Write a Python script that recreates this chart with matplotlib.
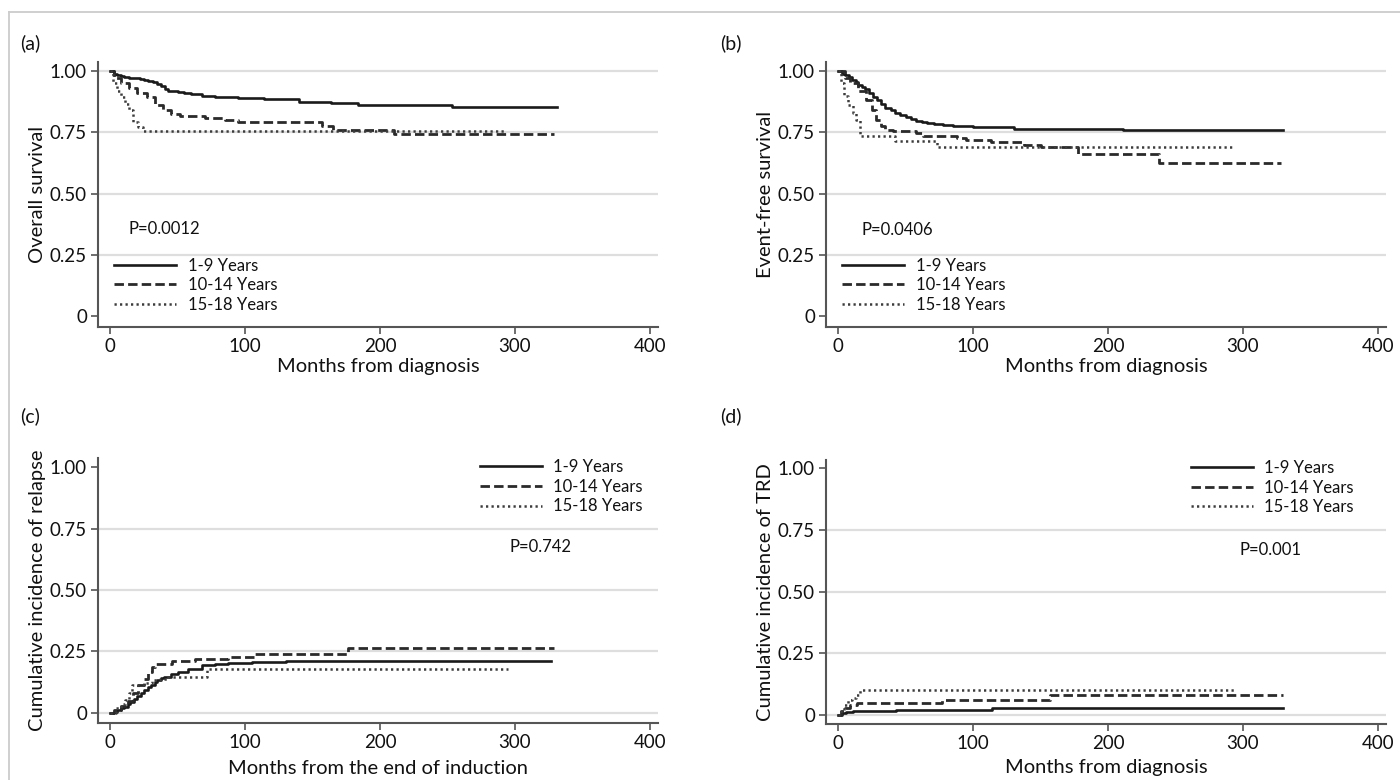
import matplotlib
matplotlib.use("Agg")
import matplotlib.pyplot as plt
from matplotlib.lines import Line2D

plt.rcParams['font.family'] = ['Lato', 'DejaVu Sans']

# ---------------- data ----------------
groups = ["1-9 Years", "10-14 Years", "15-18 Years"]

# (a) Overall survival
os_t_1 = [0, 3, 5, 8, 10, 14, 18, 22, 25, 28, 32, 35, 38, 41, 43, 47, 50, 55, 60, 68, 78, 95, 114, 140, 164, 184, 253, 331]
os_s_1 = [1.0, 0.99, 0.985, 0.98, 0.975, 0.973, 0.97, 0.967, 0.964, 0.96, 0.955, 0.947, 0.937, 0.928, 0.92, 0.917, 0.914, 0.91, 0.905, 0.9, 0.895, 0.89, 0.885, 0.875, 0.868, 0.862, 0.855, 0.855]
os_t_2 = [0, 3, 8, 14, 20, 27, 33, 39, 45, 52, 70, 85, 95, 157, 165, 210, 329]
os_s_2 = [1.0, 0.97, 0.95, 0.93, 0.91, 0.895, 0.86, 0.84, 0.825, 0.815, 0.81, 0.80, 0.79, 0.775, 0.76, 0.745, 0.745]
os_t_3 = [0, 2, 5, 8, 11, 14, 17, 21, 24, 292]
os_s_3 = [1.0, 0.95, 0.92, 0.895, 0.865, 0.84, 0.79, 0.77, 0.757, 0.757]

# (b) Event-free survival
efs_t_1 = [0, 3, 5, 8, 10, 13, 15, 18, 20, 23, 26, 29, 32, 35, 39, 42, 46, 50, 54, 58, 62, 66, 71, 78, 85, 100, 130, 211, 330]
efs_s_1 = [1.0, 0.99, 0.985, 0.975, 0.965, 0.955, 0.945, 0.935, 0.925, 0.91, 0.895, 0.88, 0.865, 0.85, 0.84, 0.83, 0.82, 0.812, 0.805, 0.797, 0.79, 0.786, 0.782, 0.778, 0.775, 0.77, 0.765, 0.758, 0.758]
efs_t_2 = [0, 5, 9, 15, 21, 25, 28, 32, 35, 41, 58, 63, 88, 95, 113, 138, 150, 178, 238, 328]
efs_s_2 = [1.0, 0.97, 0.95, 0.92, 0.88, 0.84, 0.80, 0.775, 0.76, 0.755, 0.748, 0.735, 0.725, 0.72, 0.71, 0.70, 0.69, 0.66, 0.625, 0.625]
efs_t_3 = [0, 2, 4, 7, 11, 13, 16, 42, 73, 293]
efs_s_3 = [1.0, 0.95, 0.90, 0.86, 0.83, 0.80, 0.735, 0.715, 0.688, 0.688]

# (c) Cumulative incidence of relapse
rel_t_1 = [0, 3, 5, 8, 10, 13, 15, 18, 20, 23, 25, 28, 30, 33, 35, 38, 40, 45, 50, 58, 68, 78, 87, 105, 130, 327]
rel_s_1 = [0, 0.005, 0.01, 0.018, 0.025, 0.035, 0.045, 0.058, 0.07, 0.083, 0.095, 0.105, 0.115, 0.125, 0.135, 0.142, 0.148, 0.16, 0.168, 0.18, 0.195, 0.2, 0.205, 0.208, 0.212, 0.212]
rel_t_2 = [0, 3, 8, 13, 17, 21, 25, 28, 31, 33, 46, 63, 87, 107, 176, 329]
rel_s_2 = [0, 0.01, 0.03, 0.05, 0.08, 0.115, 0.14, 0.165, 0.185, 0.2, 0.21, 0.22, 0.228, 0.24, 0.263, 0.263]
rel_t_3 = [0, 4, 8, 11, 14, 16, 26, 31, 37, 43, 72, 295]
rel_s_3 = [0, 0.02, 0.035, 0.053, 0.08, 0.114, 0.12, 0.134, 0.14, 0.148, 0.178, 0.178]

# (d) Cumulative incidence of TRD
trd_t_1 = [0, 3, 6, 11, 43, 114, 330]
trd_s_1 = [0, 0.008, 0.013, 0.018, 0.022, 0.027, 0.027]
trd_t_2 = [0, 2, 5, 9, 14, 77, 157, 330]
trd_s_2 = [0, 0.015, 0.03, 0.04, 0.048, 0.063, 0.083, 0.083]
trd_t_3 = [0, 2, 4, 7, 10, 13, 16, 295]
trd_s_3 = [0, 0.02, 0.04, 0.06, 0.07, 0.08, 0.10, 0.10]

x_ticks = [0, 100, 200, 300, 400]
y_ticks = [0, 0.25, 0.5, 0.75, 1.0]
y_ticklabels = ["0", "0.25", "0.50", "0.75", "1.00"]

panels = [
    dict(tag="(a)", ylabel="Overall survival", xlabel="Months from diagnosis", pval="P=0.0012",
         series=[(os_t_1, os_s_1), (os_t_2, os_s_2), (os_t_3, os_s_3)]),
    dict(tag="(b)", ylabel="Event-free survival", xlabel="Months from diagnosis", pval="P=0.0406",
         series=[(efs_t_1, efs_s_1), (efs_t_2, efs_s_2), (efs_t_3, efs_s_3)]),
    dict(tag="(c)", ylabel="Cumulative incidence of relapse", xlabel="Months from the end of induction", pval="P=0.742",
         series=[(rel_t_1, rel_s_1), (rel_t_2, rel_s_2), (rel_t_3, rel_s_3)]),
    dict(tag="(d)", ylabel="Cumulative incidence of TRD", xlabel="Months from diagnosis", pval="P=0.001",
         series=[(trd_t_1, trd_s_1), (trd_t_2, trd_s_2), (trd_t_3, trd_s_3)]),
]

# ---------------- layout / style ----------------
W, H = 1400, 780
fig = plt.figure(figsize=(W / 100, H / 100), dpi=100)

def fx(px):
    return px / W

def fy(py):
    return 1 - py / H

ax_px = {  # left, top, right, bottom in pixels
    "(a)": (98, 62, 658, 327),
    "(b)": (826, 62, 1386, 327),
    "(c)": (98, 458, 658, 723),
    "(d)": (826, 460, 1386, 724),
}
ylims = {"(a)": (-0.045, 1.037), "(b)": (-0.045, 1.037), "(c)": (-0.041, 1.037), "(d)": (-0.036, 1.032)}
grid_vals = {"(a)": [0.25, 0.5, 0.75, 1.0], "(b)": [0.25, 0.5, 0.75, 1.0],
             "(c)": [0, 0.25, 0.5, 0.75], "(d)": [0, 0.25, 0.5, 0.75]}
legend_pos = {"(a)": (0.029, 0.262), "(b)": (0.029, 0.262), "(c)": (0.682, 0.996), "(d)": (0.652, 1.0)}
pval_pos = {"(a)": (0.055, 0.37), "(b)": (0.064, 0.366), "(c)": (0.734, 0.664), "(d)": (0.739, 0.659)}
tag_pos = {"(a)": (20, 43), "(b)": (720, 43), "(c)": (20, 416), "(d)": (720, 416)}

styles = [
    dict(color="#1a1a1a", lw=1.9, ls="-"),
    dict(color="#2a2a2a", lw=2.0, ls=(0, (3.4, 1.5))),
    dict(color="#3c3c3c", lw=1.8, ls=(0, (0.9, 1.3))),
]
spine_color = "#555555"

for p in panels:
    tag = p["tag"]
    l, t, r, b = ax_px[tag]
    ax = fig.add_axes([fx(l), fy(b), (r - l) / W, (b - t) / H])
    ax.set_xlim(-9, 406)
    ax.set_ylim(*ylims[tag])
    for gv in grid_vals[tag]:
        ax.axhline(gv, color="#dedede", lw=1.6, zorder=0)
    handles = []
    for (tt, ss), st, name in zip(p["series"], styles, groups):
        h, = ax.step(tt, ss, where="post", color=st["color"], lw=st["lw"], linestyle=st["ls"],
                     label=name, zorder=3)
        handles.append(h)
    for s in ["top", "right"]:
        ax.spines[s].set_visible(False)
    for s in ["left", "bottom"]:
        ax.spines[s].set_color(spine_color)
        ax.spines[s].set_linewidth(1.5)
    ax.set_xticks(x_ticks)
    ax.set_yticks(y_ticks)
    ax.set_yticklabels(y_ticklabels)
    ax.tick_params(axis="both", direction="out", length=5, width=1.2, color=spine_color,
                   labelsize=13.5, labelcolor="#111111", pad=3)
    ax.set_ylabel(p["ylabel"], fontsize=14.5, color="#111111", va="center")
    ax.yaxis.set_label_coords(-0.108, 0.5)
    ax.set_xlabel(p["xlabel"], fontsize=14.5, color="#111111", va="center")
    xl_y = 366 if tag in ("(a)", "(b)") else 768
    ax.xaxis.set_label_coords(0.5, (b - xl_y) / (b - t))
    leg = ax.legend(handles=handles, loc="upper left", bbox_to_anchor=legend_pos[tag],
                    frameon=False, fontsize=12, handlelength=3.7, handletextpad=0.7,
                    labelspacing=0.22, borderpad=0, borderaxespad=0)
    for txt in leg.get_texts():
        txt.set_color("#111111")
    px_, py_ = pval_pos[tag]
    ax.text(px_, py_, p["pval"], transform=ax.transAxes, fontsize=12, ha="left", va="center",
            color="#111111")
    tx, ty = tag_pos[tag]
    fig.text(fx(tx), fy(ty), tag, fontsize=14, ha="left", va="center", color="#111111")

# thin frame lines (top and left)
fig.add_artist(Line2D([fx(9), 1.0], [fy(12), fy(12)], color="#cccccc", lw=1.3))
fig.add_artist(Line2D([fx(9), fx(9)], [fy(12), 0.0], color="#cccccc", lw=1.3))

fig.savefig("out.png", dpi=100, facecolor="white")
